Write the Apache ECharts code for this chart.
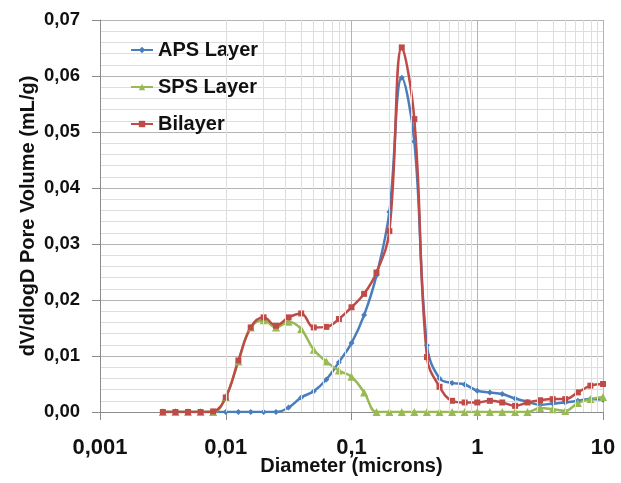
<!DOCTYPE html>
<html>
<head>
<meta charset="utf-8">
<script src="https://cdn.jsdelivr.net/npm/echarts@6/dist/echarts.min.js"></script>
<style>
html,body{margin:0;padding:0;background:#fff;}
#chart{width:621px;height:483px;}
</style>
</head>
<body>
<div id="chart"></div>
<script>
// Pore diameters (microns)
const diameters = [0.00316,0.00398,0.00501,0.00631,0.00794,0.01,0.0126,0.0158,0.02,0.0251,
  0.0316,0.0398,0.0501,0.0631,0.0794,0.1,0.126,0.158,0.2,0.251,
  0.316,0.398,0.501,0.631,0.794,1,1.26,1.58,2,2.51,
  3.16,3.98,5.01,6.31,7.94,10];
// dV/dlogD pore volume (mL/g)
const apsLayer = [0,0,0,0,0,0,0,0,0,0,
  0.0008,0.0026,0.0037,0.0058,0.0089,0.0123,0.0173,0.0244,0.0357,0.0597,
  0.0483,0.0119,0.0060,0.0052,0.0049,0.0038,0.0035,0.0032,0.0024,0.0018,
  0.0013,0.0015,0.0017,0.0020,0.0023,0.0022];
const spsLayer = [0,0,0,0,0,0.0027,0.0090,0.0151,0.0164,0.0151,
  0.0161,0.0148,0.0111,0.0090,0.0074,0.0063,0.0035,0,0,0,
  0,0,0,0,0,0,0,0,0,0,
  0.0007,0.0005,0.0002,0.0016,0.0023,0.0027];
const bilayer = [0,0,0,0,0.0001,0.0026,0.0092,0.0151,0.0169,0.0154,
  0.0169,0.0176,0.0151,0.0152,0.0166,0.0187,0.0211,0.0249,0.0323,0.0651,
  0.0523,0.0098,0.0045,0.0020,0.0017,0.0017,0.0020,0.0017,0.0011,0.0017,
  0.0021,0.0023,0.0023,0.0035,0.0047,0.0050];
const seriesNames = ['APS Layer','SPS Layer','Bilayer'];
const xTickLabels = ['0,001','0,01','0,1','1','10'];
const yTickLabels = ['0,00','0,01','0,02','0,03','0,04','0,05','0,06','0,07'];

// minor log gridline values (2..9 per decade)
const minorX = [];
for (let e = -3; e <= 0; e++) {
  for (let k = 2; k <= 9; k++) minorX.push(+(k * Math.pow(10, e)).toPrecision(3));
}

const FONT = "'Liberation Sans', Arial, sans-serif";
const pair = arr => diameters.map((d, i) => [d, arr[i]]);

const chart = echarts.init(document.getElementById('chart'), null, {renderer: 'canvas'});
const lineBase = {
  type: 'line',
  smooth: 0.4,
  lineStyle: {width: 2.5},
  animation: false,
  z: 3
};
chart.setOption({
  backgroundColor: '#ffffff',
  animation: false,
  grid: {left: 100, right: 18, top: 20, bottom: 71, containLabel: false, outerBoundsMode: 'none'},
  legend: {
    data: seriesNames,
    orient: 'vertical',
    left: 125,
    top: 33,
    itemWidth: 22,
    itemHeight: 8,
    itemGap: 13,
    textStyle: {fontFamily: FONT, fontWeight: 'bold', fontSize: 20, color: '#111', lineHeight: 24}
  },
  xAxis: {
    type: 'log',
    logBase: 10,
    min: 0.001,
    max: 10,
    name: 'Diameter (microns)',
    nameLocation: 'middle',
    nameGap: 44,
    nameMoveOverlap: false,
    nameTextStyle: {fontFamily: FONT, fontWeight: 'bold', fontSize: 20, color: '#111'},
    axisLine: {show: true, lineStyle: {color: '#8c8c8c', width: 1}},
    axisTick: {show: true, inside: false, length: 8, lineStyle: {color: '#8c8c8c'}},
    axisLabel: {
      margin: 25,
      fontFamily: FONT, fontWeight: 'bold', fontSize: 22, color: '#111',
      formatter: v => xTickLabels[Math.round(Math.log10(v)) + 3]
    },
    splitLine: {show: true, lineStyle: {color: '#b4b4b4', width: 1}},
    minorTick: {show: false},
    minorSplitLine: {show: false}
  },
  yAxis: {
    type: 'value',
    min: 0,
    max: 0.07,
    interval: 0.01,
    name: 'dV/dlogD Pore Volume (mL/g)',
    nameLocation: 'middle',
    nameGap: 62,
    nameMoveOverlap: false,
    nameTextStyle: {fontFamily: FONT, fontWeight: 'bold', fontSize: 20, color: '#111'},
    axisLine: {show: true, lineStyle: {color: '#8c8c8c', width: 1}},
    axisTick: {show: true, inside: false, length: 8, lineStyle: {color: '#8c8c8c'}},
    axisLabel: {
      margin: 20,
      fontFamily: FONT, fontWeight: 'bold', fontSize: 18.5, color: '#111',
      formatter: v => yTickLabels[Math.round(v * 100)]
    },
    splitLine: {show: true, lineStyle: {color: '#b4b4b4', width: 1}},
    minorTick: {show: false, splitNumber: 5},
    minorSplitLine: {show: true, lineStyle: {color: '#dedede', width: 1}}
  },
  series: [
    {
      name: 'minorGrid',
      type: 'line',
      data: [],
      z: 1,
      silent: true,
      markLine: {
        silent: true,
        symbol: 'none',
        animation: false,
        label: {show: false},
        lineStyle: {color: '#dedede', type: 'solid', width: 1},
        data: minorX.map(v => ({xAxis: v}))
      }
    },
    Object.assign({}, lineBase, {
      name: seriesNames[0],
      data: pair(apsLayer),
      symbol: 'diamond',
      symbolSize: 6,
      itemStyle: {color: '#4A7EBB'},
      lineStyle: {width: 2.5, color: '#4A7EBB'}
    }),
    Object.assign({}, lineBase, {
      name: seriesNames[1],
      data: pair(spsLayer),
      symbol: 'triangle',
      symbolSize: 8,
      itemStyle: {color: '#98B954'},
      lineStyle: {width: 2.5, color: '#98B954'}
    }),
    Object.assign({}, lineBase, {
      name: seriesNames[2],
      data: pair(bilayer),
      symbol: 'rect',
      symbolSize: 6,
      itemStyle: {color: '#BE4B48'},
      lineStyle: {width: 2.5, color: '#BE4B48'}
    })
  ]
});
</script>
</body>
</html>
